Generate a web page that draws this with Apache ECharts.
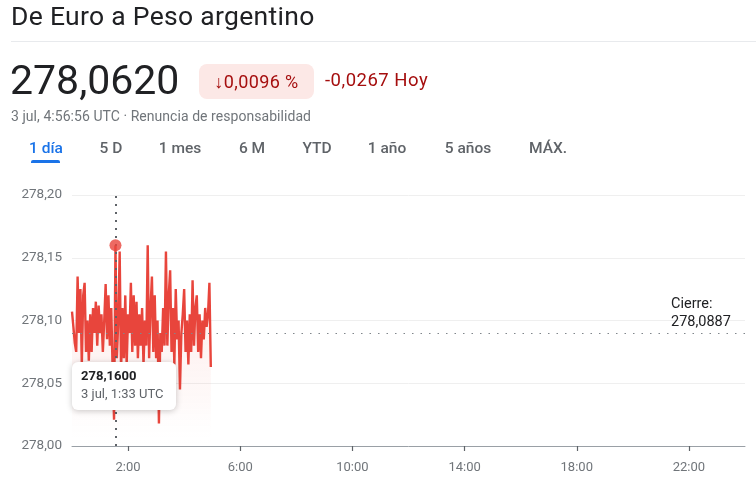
<!DOCTYPE html>
<html>
<head>
<meta charset="utf-8">
<script src="https://cdn.jsdelivr.net/npm/echarts@6/dist/echarts.min.js"></script>
<style>
  html, body { margin:0; padding:0; width:756px; height:481px; overflow:hidden; background:#fff; font-family: Roboto, "Noto Sans", Arial, sans-serif; }
  #chart { position:absolute; left:0; top:0; width:756px; height:481px; }
  .abs { position:absolute; white-space:nowrap; }
  #title { left:11px; top:0px; font-size:26.5px; color:#202124; letter-spacing:0.3px; }
  #sep { left:11px; top:41px; width:745px; height:1px; background:#e8eaed; }
  #price { left:10px; top:56px; font-size:41px; color:#202124; }
  #badge { left:199px; top:64px; width:115px; height:35px; border-radius:8px; background:#fce8e6; color:#a50e0e; font-size:18px; line-height:35px; text-align:center; letter-spacing:0.4px; }
  #chg { left:325px; top:69px; font-size:18.5px; color:#a50e0e; letter-spacing:0.5px; }
  #sub { left:11px; top:108px; font-size:14px; color:#70757a; letter-spacing:0.05px; }
  .tab { top:139px; font-size:15.5px; color:#5f6368; font-weight:500; transform:translateX(-50%); }
  #tab0 { color:#1a73e8; }
  #uline { left:31px; top:160px; width:29px; height:3px; border-radius:2px 2px 0 0; background:#1a73e8; }
</style>
</head>
<body>
<div id="chart"></div>
<div class="abs" id="title">De Euro a Peso argentino</div>
<div class="abs" id="sep"></div>
<div class="abs" id="price">278,0620</div>
<div class="abs" id="badge">↓0,0096 %</div>
<div class="abs" id="chg">-0,0267 Hoy</div>
<div class="abs" id="sub">3 jul, 4:56:56 UTC · Renuncia de responsabilidad</div>
<div class="abs tab" id="tab0" style="left:46px">1 día</div>
<div class="abs tab" style="left:111px">5 D</div>
<div class="abs tab" style="left:180px">1 mes</div>
<div class="abs tab" style="left:252px">6 M</div>
<div class="abs tab" style="left:317px">YTD</div>
<div class="abs tab" style="left:387px">1 año</div>
<div class="abs tab" style="left:468px">5 años</div>
<div class="abs tab" style="left:548px">MÁX.</div>
<div class="abs" id="uline"></div>
<script>
// ---- data ----
const stepMinutes = 3; // one reading every 3 minutes starting 0:00 UTC
const prices = [
  278.107, 278.095, 278.082, 278.075, 278.135, 278.090, 278.125, 278.065, 278.120, 278.130,
  278.075, 278.100, 278.068, 278.105, 278.075, 278.110, 278.090, 278.115, 278.080, 278.112,
  278.090, 278.105, 278.075, 278.100, 278.129, 278.085, 278.120, 278.080, 278.110, 278.060,
  278.021, 278.160, 278.070, 278.100, 278.155, 278.060, 278.110, 278.070, 278.120, 278.065,
  278.105, 278.090, 278.130, 278.075, 278.120, 278.080, 278.115, 278.070, 278.105, 278.080,
  278.110, 278.065, 278.100, 278.080, 278.160, 278.070, 278.110, 278.135, 278.075, 278.120,
  278.070, 278.100, 278.018, 278.090, 278.075, 278.110, 278.080, 278.155, 278.080, 278.120,
  278.140, 278.075, 278.110, 278.065, 278.125, 278.085, 278.100, 278.045, 278.090, 278.105,
  278.125, 278.075, 278.100, 278.065, 278.105, 278.075, 278.132, 278.080, 278.110, 278.120,
  278.075, 278.105, 278.070, 278.100, 278.085, 278.110, 278.095, 278.105, 278.130, 278.063
];
const closeValue = 278.0887;
const highlightIndex = 31;            // 3 jul, 1:33 UTC
const highlightLabel = '3 jul, 1:33 UTC';
const xTickMinutes = [120, 360, 600, 840, 1080, 1320];
const yMin = 278.00, yMax = 278.20, yStep = 0.05;

const fmt = (v, d) => v.toFixed(d).replace('.', ',');
const seriesData = prices.map((p, i) => [i * stepMinutes, p]);
const hl = seriesData[highlightIndex];

const chart = echarts.init(document.getElementById('chart'), null, { renderer: 'canvas' });
chart.setOption({
  animation: false,
  grid: { left: 72, right: 11, top: 195, bottom: 35, containLabel: false },
  xAxis: {
    type: 'value', min: 0, max: 1440,
    axisLine: { show: true, lineStyle: { color: '#9aa0a6', width: 1 } },
    axisTick: { show: true, customValues: xTickMinutes, length: 5, lineStyle: { color: '#5f6368', width: 1.2 } },
    axisLabel: { customValues: xTickMinutes, formatter: v => Math.floor(v / 60) + ':00', color: '#70757a', fontSize: 13, margin: 15, fontFamily: 'Roboto' },
    splitLine: { show: false }
  },
  yAxis: {
    type: 'value', min: yMin, max: yMax, interval: yStep,
    axisLine: { show: false }, axisTick: { show: false },
    axisLabel: { formatter: v => fmt(v, 2), color: '#70757a', fontSize: 13.5, margin: 10, fontFamily: 'Roboto' },
    splitLine: { lineStyle: { color: '#efefef', width: 1 } }
  },
  series: [
    {
      type: 'line', data: seriesData, showSymbol: false, symbol: 'none',
      lineStyle: { color: '#e8453c', width: 2.4 },
      areaStyle: { origin: 'start', color: new echarts.graphic.LinearGradient(0, 0, 0, 1, [
        { offset: 0, color: 'rgba(234,67,53,0.18)' },
        { offset: 0.8, color: 'rgba(234,67,53,0.04)' },
        { offset: 1, color: 'rgba(255,255,255,0)' }
      ]) },
      markLine: {
        silent: true, symbol: 'none', animation: false,
        data: [
          { yAxis: closeValue, lineStyle: { type: [1.5, 7], color: '#80868b', width: 1.2 },
            label: { show: true, position: 'insideEndTop',
              formatter: '{a|Cierre:}\n{a|' + fmt(closeValue, 4) + '}',
              rich: { a: { width: 61, align: 'left', color: '#202124', fontSize: 14.5, lineHeight: 18, fontFamily: 'Roboto' } },
              distance: [13, 2] } },
          { xAxis: hl[0], lineStyle: { type: [2, 6], color: '#5f6368', width: 2 }, label: { show: false } }
        ]
      },
      z: 2
    },
    {
      type: 'scatter', data: [hl], symbol: 'circle', symbolSize: 12,
      itemStyle: { color: '#e8453c' }, z: 5, silent: true
    }
  ],
  graphic: [
    {
      type: 'group', left: 72, top: 362, zlevel: 1, z: 100,
      children: [
        { type: 'rect', z: 100, zlevel: 1, shape: { x: 0, y: 0, width: 104, height: 48, r: 6 },
          style: { fill: '#fff', shadowBlur: 6, shadowColor: 'rgba(0,0,0,0.22)', shadowOffsetY: 1 } },
        { type: 'text', z: 101, zlevel: 1, x: 9, y: 8, style: { text: fmt(hl[1], 4), fill: '#202124', font: 'bold 13px Roboto' } },
        { type: 'text', z: 101, zlevel: 1, x: 9, y: 26, style: { text: highlightLabel, fill: '#5f6368', font: '13px Roboto' } }
      ]
    }
  ]
});
</script>
</body>
</html>
